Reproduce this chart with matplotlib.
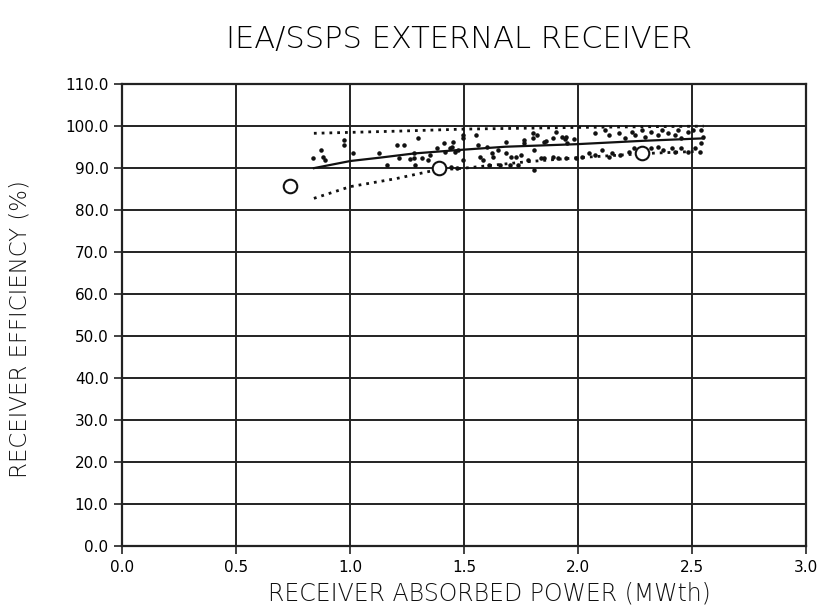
import matplotlib
matplotlib.use("Agg")
import matplotlib.pyplot as plt
import numpy as np

# Scattered measured points
pts_x = [0.836, 0.87, 0.88, 0.89, 0.974, 0.974, 1.01, 1.126, 1.16, 1.206, 1.237,
         1.213, 1.26, 1.28, 1.296, 1.278, 1.285, 1.314, 1.34, 1.35, 1.38, 1.41,
         1.416, 1.435, 1.445, 1.46, 1.47, 1.44, 1.466, 1.45, 1.496, 1.496,
         1.496, 1.553, 1.56, 1.60, 1.568, 1.583, 1.62, 1.626, 1.648, 1.61, 1.655,
         1.684, 1.684, 1.706, 1.728, 1.75, 1.70, 1.735, 1.763, 1.763, 1.80, 1.80,
         1.807, 1.778, 1.807, 1.836, 1.85, 1.85, 1.887, 1.887, 1.91, 1.945, 1.93,
         1.945, 1.94, 1.99, 1.82, 1.86, 1.90, 1.95, 1.98,
         2.075, 2.119, 2.133, 2.177, 2.206, 2.235, 2.249, 2.278, 2.293, 2.32,
         2.35, 2.365, 2.394, 2.423, 2.437, 2.452, 2.481, 2.503, 2.539, 2.546,
         2.017, 2.046, 2.075, 2.104, 2.133, 2.148, 2.184, 2.22, 2.242, 2.32,
         2.35, 2.372, 2.409, 2.423, 2.452, 2.481, 2.51, 2.532, 2.539]
pts_y = [92.3, 94.3, 92.7, 91.9, 96.7, 95.5, 93.5, 93.5, 90.7, 95.6, 95.6,
         92.3, 92.1, 92.3, 97.2, 93.5, 90.7, 92.3, 91.9, 93.1, 94.7, 95.9,
         93.9, 94.7, 95.1, 93.9, 94.3, 90.3, 90.1, 96.3, 97.9, 92.0,
         97.1, 97.9, 95.5, 95.1, 92.7, 91.9, 93.5, 92.7, 94.3, 90.7, 90.7,
         96.3, 93.5, 92.7, 92.7, 93.1, 90.7, 90.7, 96.7, 95.9, 98.3, 97.1,
         94.3, 91.9, 89.5, 92.3, 92.3, 96.3, 97.1, 92.7, 92.3, 92.3, 97.5,
         97.5, 96.9, 92.3, 98.0, 96.5, 98.5, 96.0, 97.0,
         98.3, 99.0, 97.9, 98.3, 97.1, 98.7, 97.9, 99.0, 97.5, 98.7,
         97.9, 99.0, 98.3, 97.9, 99.0, 97.1, 98.7, 99.0, 99.0, 97.5,
         92.7, 93.5, 93.1, 94.3, 92.7, 93.5, 93.1, 93.9, 94.7, 94.7,
         95.1, 94.3, 94.7, 93.9, 94.7, 93.9, 94.7, 93.9, 95.9]

# Open circle points (predicted/design)
circ_x = [0.735, 1.39, 2.28]
circ_y = [85.7, 90.1, 93.5]

# Fitted curve
fit_x = [0.84, 1.0, 1.13, 1.28, 1.47, 1.68, 1.99, 2.28, 2.55]
fit_y = [90.0, 91.7, 92.5, 93.5, 94.3, 95.1, 95.7, 96.5, 97.1]

# Upper and lower dotted bounds
up_x = [0.84, 1.2, 1.5, 2.0, 2.55]
up_y = [98.3, 98.8, 99.3, 99.7, 100.0]
lo_x = [0.84, 1.0, 1.2, 1.37, 1.5, 1.77, 2.0, 2.3, 2.52]
lo_y = [82.8, 85.6, 87.5, 89.5, 90.0, 91.5, 92.5, 93.5, 94.0]

xticks = [0.0, 0.5, 1.0, 1.5, 2.0, 2.5, 3.0]
yticks = [0, 10, 20, 30, 40, 50, 60, 70, 80, 90, 100, 110]

fig = plt.figure(figsize=(8.27, 6.10), dpi=100)
ax = fig.add_axes([0.148, 0.105, 0.827, 0.757])
ax.set_xlim(0, 3.0)
ax.set_ylim(0, 110)
ax.set_xticks(xticks)
ax.set_xticklabels([f"{t:.1f}" for t in xticks], fontsize=11)
ax.set_yticks(yticks)
ax.set_yticklabels([f"{t:.1f}" for t in yticks], fontsize=11)
ax.grid(True, color="#222222", linewidth=1.4)
ax.set_axisbelow(True)
for s in ax.spines.values():
    s.set_color("#222222")
    s.set_linewidth(1.6)
ax.tick_params(direction="out", length=6, width=1.2, color="#222222", pad=4)

ax.scatter(pts_x, pts_y, s=5, color="#111111", zorder=3)
ax.plot(fit_x, fit_y, color="#111111", linewidth=1.6, zorder=3)
ax.plot(up_x, up_y, color="#111111", linewidth=2.0, linestyle=(0, (1, 1.8)), zorder=3)
ax.plot(lo_x, lo_y, color="#111111", linewidth=2.0, linestyle=(0, (1, 1.8)), zorder=3)
ax.scatter(circ_x, circ_y, s=95, facecolors="white", edgecolors="#111111",
           linewidths=1.5, zorder=4)

ax.set_xlabel("RECEIVER ABSORBED POWER (MWth)", fontsize=17, fontweight="light",
              color="#111111")
ax.xaxis.set_label_coords(0.537, -0.078)
ax.set_ylabel("RECEIVER EFFICIENCY (%)", fontsize=16.5, fontweight="light",
              color="#111111")
ax.yaxis.set_label_coords(-0.133, 0.47)
fig.text(0.555, 0.935, "IEA/SSPS EXTERNAL RECEIVER", ha="center", va="center",
         fontsize=22, fontweight="light")

fig.savefig("out.png", dpi=100)
